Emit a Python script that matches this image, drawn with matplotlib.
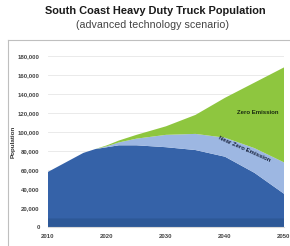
import matplotlib
matplotlib.use("Agg")
import matplotlib.pyplot as plt
from matplotlib.lines import Line2D
from matplotlib.ticker import FuncFormatter

years = [2010, 2013, 2016, 2018, 2020, 2022, 2025, 2030, 2035, 2040, 2045, 2050]
base_fleet = [9000] * 12
conventional = [49000, 59000, 69000, 73000, 75000, 77000, 77000, 75000, 72000, 65000, 48000, 26000]
near_zero = [0, 0, 0, 0, 1000, 3000, 7000, 13000, 17000, 20000, 26000, 33000]
zero_emission = [0, 0, 0, 0, 1000, 2000, 4000, 9000, 20000, 42000, 69000, 100000]
x_ticks = [2010, 2020, 2030, 2040, 2050]
y_ticks = list(range(0, 180001, 20000))

title = "South Coast Heavy Duty Truck Population"
subtitle = "(advanced technology scenario)"

plt.rcParams['font.family'] = ['Liberation Sans', 'DejaVu Sans']

fig = plt.figure(figsize=(2.9, 2.46), dpi=100)
fig.text(0.535, 0.955, title, ha='center', va='center', fontsize=7.9, fontweight='bold', color='#1a1a1a')
fig.text(0.525, 0.898, subtitle, ha='center', va='center', fontsize=7.7, color='#444444')

# outer frame
fc = '#bfbfbf'
fig.add_artist(Line2D([8/290, 8/290], [0, 206/246], transform=fig.transFigure, color=fc, lw=0.8))
fig.add_artist(Line2D([8/290, 289/290], [206/246, 206/246], transform=fig.transFigure, color=fc, lw=0.8))

ax = fig.add_axes([48/290, 19/246, 236/290, 171/246])
ax.stackplot(years, base_fleet, conventional, near_zero, zero_emission,
             colors=['#2d5897', '#3562a8', '#9db7e2', '#8ec63f'], linewidth=0)
ax.set_xlim(2010, 2050)
ax.set_ylim(0, 180000)
ax.set_xticks(x_ticks)
ax.set_yticks(y_ticks)
ax.yaxis.set_major_formatter(FuncFormatter(lambda v, p: f"{int(v):,}"))
ax.grid(axis='y', color='#e6e6e6', lw=0.6)
ax.set_axisbelow(True)
for s in ['top', 'right', 'left']:
    ax.spines[s].set_visible(False)
ax.spines['bottom'].set_color('#d9d9d9')
ax.tick_params(axis='x', length=0, labelsize=4.3, colors='#444444', pad=5)
ax.tick_params(axis='y', length=0, labelsize=4.3, colors='#444444', pad=6)
for lab in ax.get_xticklabels() + ax.get_yticklabels():
    lab.set_fontweight('bold')
ax.set_ylabel("Population", fontsize=4.5, fontweight='bold', color='#333333', labelpad=1.5)

ax.text(2045.5, 121000, "Zero Emission", fontsize=4.3, color='#1a2a10', ha='center', va='center', fontweight='bold')
ax.text(2043.2, 82000, "Near Zero Emission", fontsize=4.3, color='#1a2540', ha='center', va='center',
        rotation=-24, rotation_mode='anchor', fontweight='bold')

fig.savefig("out.png", dpi=100)
